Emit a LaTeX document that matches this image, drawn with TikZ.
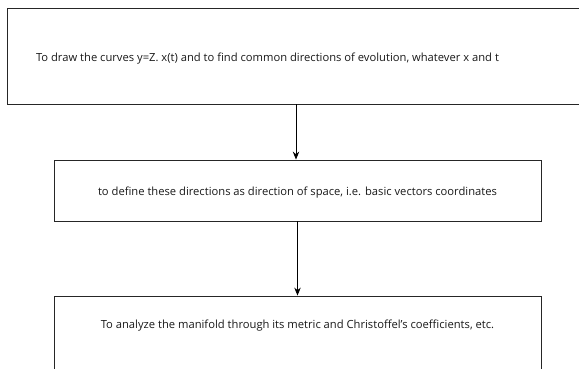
\documentclass[tikz,border=0pt]{standalone}
\usepackage{fontspec}
\setmainfont{Open Sans}
\usetikzlibrary{arrows.meta}
\begin{document}
\begin{tikzpicture}[x=1pt,y=1pt,
  box/.style={draw=black!85, line width=0.85pt, rectangle, inner sep=0pt},
  lbl/.style={font=\fontsize{11.2}{13}\selectfont, text=black!90, inner sep=0pt},
  conn/.style={draw=black, line width=0.85pt, -{Stealth[length=8pt,width=6.5pt]}}]
\useasboundingbox (0,0) rectangle (579,368);
\clip (0,0) rectangle (579,368);
\node[box, minimum width=578, minimum height=96] (b1) at (296,312) {};
\node[lbl] (t1) at (267.5,309) {To draw the curves y=Z. x(t) and to find common directions of evolution, whatever x and t};
\node[box, minimum width=487, minimum height=61] (b2) at (297.5,177.5) {};
\node[lbl] (t2) at (297.5,175.5) {to define these directions as direction of space, i.e. basic vectors coordinates};
\node[box, minimum width=487, minimum height=102] (b3) at (297.5,21) {};
\node[lbl] (t3) at (297.5,42) {To analyze the manifold through its metric and Christoffel's coefficients, etc.};
\draw[conn] (b1.south) -- (b1.south |- b2.north);
\draw[conn] (b2.south) -- (b2.south |- b3.north);
\end{tikzpicture}
\end{document}
